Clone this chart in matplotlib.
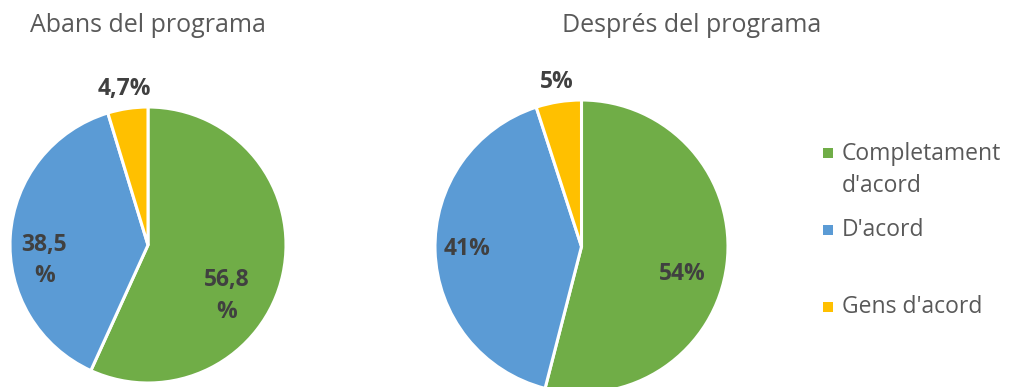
import matplotlib
matplotlib.use("Agg")
import matplotlib.pyplot as plt
from matplotlib.patches import Rectangle

categories = ["Completament\nd'acord", "D'acord", "Gens d'acord"]
colors = ["#70AD47", "#5B9BD5", "#FFC000"]
before_values = [56.8, 38.5, 4.7]
after_values = [54, 41, 5]
before_labels = ["56,8\n%", "38,5\n%", "4,7%"]
after_labels = ["54%", "41%", "5%"]
titles = ["Abans del programa", "Després del programa"]

FONT = ["Open Sans", "DejaVu Sans"]
W, H = 1009, 387
fig = plt.figure(figsize=(W / 100, H / 100), dpi=100)
fig.patch.set_facecolor("white")

def add_pie(cx, cy, r, values, labels, label_pos):
    ax = fig.add_axes([(cx - r) / W, 1 - (cy + r) / H, 2 * r / W, 2 * r / H])
    ax.pie(values, colors=colors, startangle=90, counterclock=False, radius=1,
           wedgeprops=dict(edgecolor="white", linewidth=2.2))
    ax.set_xlim(-1, 1)
    ax.set_ylim(-1, 1)
    ax.set_aspect("auto")
    ax.axis("off")
    for lab, (x, y) in zip(labels, label_pos):
        ax.text(x, y, lab, ha="center", va="center", fontsize=16.5,
                fontweight="bold", color="#404040", family=FONT,
                linespacing=1.4, clip_on=False)
    return ax

add_pie(148, 245, 138, before_values, before_labels,
        [(0.57, -0.37), (-0.75, -0.11), (-0.17, 1.13)])
add_pie(581.5, 246.5, 146.5, after_values, after_labels,
        [(0.69, -0.19), (-0.78, -0.02), (-0.17, 1.12)])

fig.text(148 / W, 1 - 25 / H, titles[0], ha="center", va="center",
         fontsize=18, color="#595959", family=FONT)
fig.text(692 / W, 1 - 25 / H, titles[1], ha="center", va="center",
         fontsize=18, color="#595959", family=FONT)

# legend
text_y = [170, 230, 307]
marker_y = [153, 230, 307]
for cat, col, ty, my in zip(categories, colors, text_y, marker_y):
    fig.patches.append(Rectangle((823 / W, 1 - (my + 5) / H),
                                 10 / W, 10 / H, transform=fig.transFigure,
                                 facecolor=col, edgecolor="none"))
    fig.text(842 / W, 1 - ty / H, cat, ha="left", va="center", fontsize=16.5,
             color="#595959", family=FONT, linespacing=1.4)

fig.savefig("out.png", dpi=100, facecolor="white")
